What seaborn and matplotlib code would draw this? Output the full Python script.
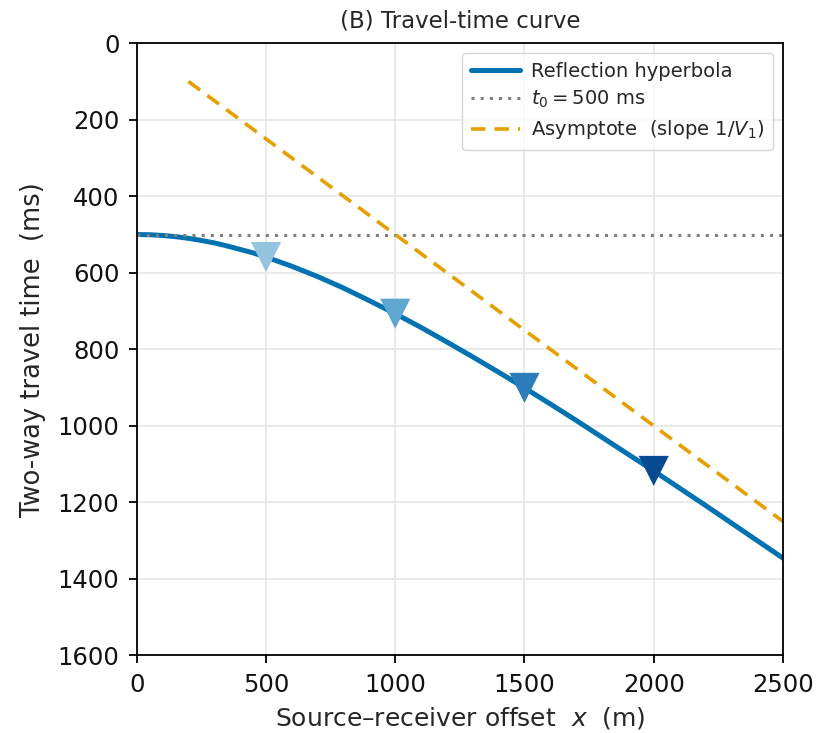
import matplotlib
matplotlib.use("Agg")
import matplotlib.pyplot as plt
import seaborn as sns
import pandas as pd

# Data
offset_m = [0, 50, 100, 150, 200, 250, 300, 350, 400, 450, 500, 600, 700, 800,
            900, 1000, 1100, 1200, 1300, 1400, 1500, 1600, 1700, 1800, 1900,
            2000, 2100, 2200, 2300, 2400, 2500]
hyperbola_ms = [500, 500.6, 502.5, 505.6, 510, 515.5, 522, 530, 539, 548, 559,
                583, 610, 640, 673, 707, 743, 781, 820, 860, 901, 943, 986,
                1030, 1074, 1118, 1163, 1208, 1254, 1300, 1346]
t0_x = [0, 2500]
t0_ms = [500, 500]
asym_x = [200, 2500]
asym_ms = [100, 1250]
marker_x = [500, 1000, 1500, 2000]
marker_ms = [559, 707, 901, 1118]
marker_colors = ["#94c4df", "#5fa6d1", "#2c7cba", "#084a91"]

sns.set_theme(style="whitegrid")
plt.rcParams.update({
    "axes.edgecolor": "black",
    "axes.linewidth": 1.3,
    "xtick.bottom": True,
    "ytick.left": True,
    "xtick.color": "black",
    "ytick.color": "black",
    "xtick.major.size": 5.5,
    "ytick.major.size": 5.5,
    "xtick.major.width": 1.3,
    "ytick.major.width": 1.3,
    "grid.color": "#e6e6e6",
    "grid.linewidth": 1.2,
})
plt.rcParams["font.family"] = ["DejaVu Sans"]

fig = plt.figure(figsize=(8.19, 7.33), dpi=100)
ax = fig.add_axes([0.167, 0.106, 0.789, 0.835])

df_h = pd.DataFrame({"x": offset_m, "t": hyperbola_ms})
df_t0 = pd.DataFrame({"x": t0_x, "t": t0_ms})
df_as = pd.DataFrame({"x": asym_x, "t": asym_ms})
df_m = pd.DataFrame({"x": marker_x, "t": marker_ms, "c": [str(i) for i in range(4)]})

sns.lineplot(data=df_h, x="x", y="t", ax=ax, color="#0072B2", lw=3.6,
             label="Reflection hyperbola", sort=False)
sns.lineplot(data=df_t0, x="x", y="t", ax=ax, color="#808080", lw=2.2,
             linestyle=(0, (1, 2)), label=r"$t_0 = 500$ ms", sort=False)
sns.lineplot(data=df_as, x="x", y="t", ax=ax, color="#E69F00", lw=2.6,
             linestyle=(0, (4, 2.5)), label=r"Asymptote  (slope $1/V_1$)", sort=False)
sns.scatterplot(data=df_m, x="x", y="t", hue="c", palette=marker_colors,
                marker="v", s=470, linewidth=0, ax=ax, legend=False, zorder=5)

ax.set_xlim(0, 2500)
ax.set_ylim(1600, 0)
ax.set_xticks([0, 500, 1000, 1500, 2000, 2500])
ax.set_yticks([0, 200, 400, 600, 800, 1000, 1200, 1400, 1600])
ax.tick_params(labelsize=17.5, pad=7, labelcolor="#111111")
ax.set_xlabel(r"Source–receiver offset  $x$  (m)", fontsize=18, labelpad=6)
ax.set_ylabel("Two-way travel time  (ms)", fontsize=18.5, labelpad=8)
ax.set_title("(B) Travel-time curve", fontsize=16.5, pad=11)
for s in ax.spines.values():
    s.set_color("black")

leg = ax.legend(loc="upper right", fontsize=14, frameon=True, handlelength=2.5,
                borderpad=0.45, labelspacing=0.42, handletextpad=0.6)
leg.get_frame().set_edgecolor("#cccccc")

fig.savefig("out.png", dpi=100)
